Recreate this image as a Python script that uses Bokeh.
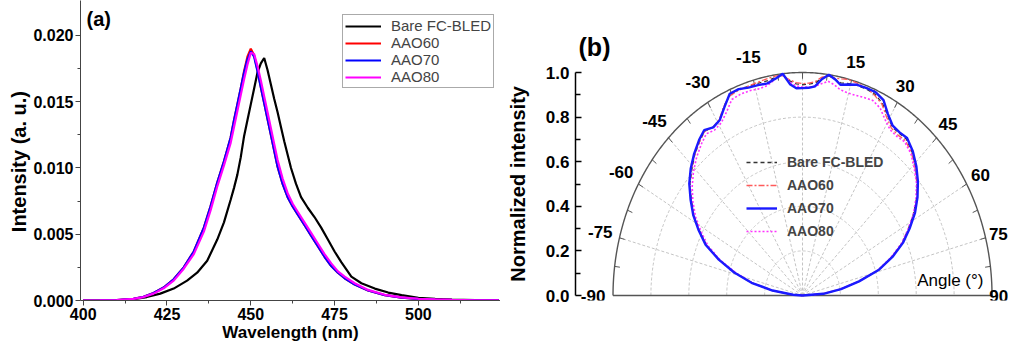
import numpy as np
from bokeh.plotting import figure
from bokeh.layouts import row
from bokeh.models import (Range1d, FixedTicker, NumeralTickFormatter, Legend,
                          LegendItem, Label)
from bokeh.core.properties import value
from bokeh.embed import file_html
from bokeh.resources import INLINE

FONT = "Liberation Sans"
NB = "\u00a0"

# ---------------- Panel (a): emission spectra ----------------
series_names = ["Bare FC-BLED", "AAO60", "AAO70", "AAO80"]

wl_bare = [400, 405, 410, 415, 419, 423, 427, 431, 434, 437, 440, 442, 444, 445,
           446, 447, 448, 449, 450, 451, 452, 453, 454, 455, 456, 457, 458, 459,
           460, 461, 462, 463.5, 465, 467, 469, 471, 473, 475, 477, 480, 483, 487,
           491, 495, 500, 505, 510, 517, 524]
int_bare = [0.0, 0.0, 0.00001, 0.0001, 0.00026, 0.00052, 0.0009, 0.0015, 0.0021,
            0.0030, 0.0046, 0.0059, 0.0076, 0.0085, 0.0095, 0.0108, 0.0124, 0.0136,
            0.0148, 0.0160, 0.0172, 0.0179, 0.0183, 0.0174, 0.0163, 0.0152, 0.0142,
            0.0131, 0.0120, 0.0110, 0.0100, 0.0088, 0.0078, 0.0070, 0.0063, 0.0055,
            0.0046, 0.0037, 0.0029, 0.0018, 0.0013, 0.0009, 0.0006, 0.0004, 0.0002,
            0.00012, 0.00007, 0.00003, 0.00001]

wl_aao = [400, 405, 410, 415, 418, 421, 424, 427, 430, 433, 436, 438, 440, 442,
          444, 445, 446, 447, 448, 449, 450, 451, 452, 453, 454, 455, 456, 457,
          458, 459.5, 461, 462.5, 464, 466, 468, 470, 472, 474, 476, 478, 481, 485,
          490, 495, 500, 505, 510, 517, 524]
int_aao70 = [0.0, 0.00001, 0.00003, 0.00013, 0.00028, 0.00056, 0.00098, 0.0016,
             0.0025, 0.0037, 0.0055, 0.0071, 0.0089, 0.0105, 0.0123, 0.0136, 0.0148,
             0.0160, 0.0172, 0.0182, 0.0188, 0.0184, 0.0173, 0.0161, 0.0149, 0.0137,
             0.0125, 0.0113, 0.0101, 0.0088, 0.0078, 0.0071, 0.0065, 0.0057, 0.0049,
             0.0041, 0.0033, 0.0026, 0.0021, 0.00168, 0.0012, 0.00075, 0.0004,
             0.00022, 0.00012, 0.00007, 0.00004, 0.00002, 0.00001]
int_aao60 = [0.0, 0.00001, 0.00003, 0.00013, 0.00028, 0.00056, 0.00098, 0.0016,
             0.0025, 0.0037, 0.0055, 0.0071, 0.0089, 0.0105, 0.0123, 0.0136, 0.0148,
             0.0160, 0.0173, 0.0184, 0.0190, 0.0185, 0.0174, 0.0161, 0.0149, 0.0137,
             0.0125, 0.0113, 0.0101, 0.0088, 0.0078, 0.0071, 0.0065, 0.0057, 0.0049,
             0.0041, 0.0033, 0.0026, 0.0021, 0.00168, 0.0012, 0.00075, 0.0004,
             0.00022, 0.00012, 0.00007, 0.00004, 0.00002, 0.00001]
int_aao80 = [0.0, 0.00001, 0.00003, 0.00012, 0.00026, 0.00052, 0.00092, 0.0015,
             0.0024, 0.0035, 0.0052, 0.0068, 0.0086, 0.0102, 0.0119, 0.0131, 0.0143,
             0.0155, 0.0167, 0.0178, 0.0187, 0.0186, 0.0177, 0.0166, 0.0154, 0.0142,
             0.0130, 0.0118, 0.0106, 0.0092, 0.0081, 0.0073, 0.0067, 0.0059, 0.0051,
             0.0043, 0.0035, 0.0028, 0.0022, 0.0018, 0.0013, 0.0008, 0.00043,
             0.00023, 0.00013, 0.00008, 0.00004, 0.00002, 0.00001]

x_ticks_a = [400, 425, 450, 475, 500]
x_minor_a = [412.5, 437.5, 462.5, 487.5, 512.5]
y_ticks_a = [0.0, 0.005, 0.010, 0.015, 0.020]
y_minor_a = [0.0025, 0.0075, 0.0125, 0.0175]

# ---------------- Panel (b): polar far-field ----------------
angle_deg = [-90, -86, -82, -78, -74, -70, -66, -62, -58, -54, -50, -46, -42, -38,
             -35, -32, -29, -26, -23, -20, -17, -14, -11, -8, -6, -4, -2, 0, 2, 4,
             6, 8, 10, 12, 14, 17, 20, 23, 26, 29, 32, 35, 38, 42, 46, 50, 54, 58,
             62, 66, 70, 74, 78, 82, 86, 90]
r_bare = [0.0, 0.05, 0.16, 0.275, 0.375, 0.47, 0.555, 0.615, 0.675, 0.725, 0.775,
          0.812, 0.85, 0.88, 0.9, 0.89, 0.9, 0.945, 0.98, 0.985, 0.98, 0.98, 0.98,
          0.99, 0.995, 0.965, 0.95, 0.945, 0.948, 0.955, 0.98, 0.995, 0.985, 0.975,
          0.98, 0.985, 0.985, 0.98, 0.96, 0.925, 0.893, 0.888, 0.89, 0.865, 0.83,
          0.79, 0.745, 0.69, 0.632, 0.575, 0.5, 0.42, 0.305, 0.205, 0.11, 0.0]
r_aao60 = [0.0, 0.05, 0.16, 0.27, 0.37, 0.465, 0.555, 0.615, 0.675, 0.725, 0.775,
           0.815, 0.85, 0.88, 0.9, 0.89, 0.905, 0.945, 0.975, 0.98, 0.982, 0.985,
           0.99, 0.995, 0.99, 0.97, 0.955, 0.95, 0.953, 0.962, 0.985, 0.995, 0.99,
           0.993, 0.998, 0.995, 0.99, 0.975, 0.955, 0.915, 0.885, 0.878, 0.882,
           0.86, 0.825, 0.787, 0.745, 0.695, 0.635, 0.575, 0.5, 0.415, 0.3, 0.2,
           0.105, 0.0]
r_aao70 = [0.0, 0.05, 0.16, 0.275, 0.375, 0.47, 0.56, 0.62, 0.68, 0.73, 0.78, 0.82,
           0.855, 0.886, 0.905, 0.889, 0.9, 0.94, 0.983, 0.985, 0.975, 0.972, 0.969,
           0.985, 1.0, 0.95, 0.93, 0.93, 0.932, 0.94, 0.975, 1.0, 0.985, 0.966,
           0.975, 0.988, 0.99, 0.99, 0.975, 0.93, 0.898, 0.893, 0.896, 0.87, 0.835,
           0.795, 0.75, 0.70, 0.64, 0.58, 0.505, 0.42, 0.305, 0.205, 0.11, 0.0]
r_aao80 = [0.0, 0.05, 0.16, 0.27, 0.365, 0.46, 0.545, 0.605, 0.665, 0.715, 0.76,
           0.80, 0.835, 0.865, 0.885, 0.875, 0.885, 0.915, 0.955, 0.96, 0.96, 0.955,
           0.96, 0.985, 0.995, 0.96, 0.94, 0.935, 0.935, 0.94, 0.955, 0.97, 0.96,
           0.945, 0.94, 0.94, 0.945, 0.95, 0.935, 0.9, 0.875, 0.87, 0.875, 0.855,
           0.82, 0.785, 0.74, 0.69, 0.63, 0.57, 0.495, 0.415, 0.3, 0.2, 0.105, 0.0]

angle_ticks = list(range(-90, 91, 15))
angle_minor = [a + 7.5 for a in angle_ticks[:-1]]
r_grid = [0.2, 0.4, 0.6, 0.8]
r_ticks = [0.0, 0.2, 0.4, 0.6, 0.8, 1.0]
r_minor = [0.1, 0.3, 0.5, 0.7, 0.9]

# ================= Figure (a) =================
XA0, XA1 = 399.2, 524.5
YA1 = 0.02264
p1 = figure(width=500, height=345, x_range=Range1d(XA0, XA1),
            y_range=Range1d(0, YA1), output_backend="svg",
            toolbar_location=None, min_border_left=80, min_border_right=0,
            min_border_top=0, min_border_bottom=45)
p1.outline_line_color = None
p1.grid.visible = False
p1.background_fill_color = "white"

colors_a = ["black", "#ff0000", "#0000ff", "#ff00ff"]
r0 = p1.line(wl_bare, int_bare, line_color=colors_a[0], line_width=2.2)
r1 = p1.line(wl_aao, int_aao60, line_color=colors_a[1], line_width=2.2)
r2 = p1.line(wl_aao, int_aao70, line_color=colors_a[2], line_width=2.2)
r3 = p1.line(wl_aao, int_aao80, line_color=colors_a[3], line_width=2.2)

for ax in (p1.xaxis[0], p1.yaxis[0]):
    ax.axis_line_color = "#444444"
    ax.axis_line_width = 1
    ax.major_tick_line_color = "#444444"
    ax.minor_tick_line_color = "#444444"
    ax.major_tick_out = 5
    ax.major_tick_in = 0
    ax.minor_tick_out = 3
    ax.minor_tick_in = 0
    ax.major_label_text_font = FONT
    ax.major_label_text_font_style = "bold"
    ax.major_label_text_font_size = "16px"
    ax.major_label_text_color = "black"
    ax.axis_label_text_font = FONT
    ax.axis_label_text_font_style = "bold"
    ax.axis_label_text_color = "black"

p1.xaxis.ticker = FixedTicker(ticks=x_ticks_a, minor_ticks=x_minor_a)
p1.yaxis.ticker = FixedTicker(ticks=y_ticks_a, minor_ticks=y_minor_a)
p1.yaxis.formatter = NumeralTickFormatter(format="0.000")
p1.xaxis.major_label_standoff = 2
p1.yaxis.major_label_standoff = 2
p1.xaxis.axis_label = "Wavelength (nm)"
p1.xaxis.axis_label_text_font_size = "17px"
p1.xaxis.axis_label_standoff = 0
p1.yaxis.axis_label = "Intensity (a. u.)" + NB * 4
p1.yaxis.axis_label_text_font_size = "20px"
p1.yaxis.axis_label_standoff = 0

leg1 = Legend(items=[LegendItem(label=series_names[0], renderers=[r0]),
                     LegendItem(label=series_names[1], renderers=[r1]),
                     LegendItem(label=series_names[2], renderers=[r2]),
                     LegendItem(label=series_names[3], renderers=[r3])],
              location=(262, 212), margin=0, padding=2, spacing=0,
              glyph_width=36, glyph_height=16, label_height=16,
              label_standoff=10, label_text_font=FONT,
              label_text_font_size="15px", border_line_color="#555555",
              border_line_width=1, background_fill_color="white")
p1.add_layout(leg1)
p1.add_layout(Label(x=401.0, y=0.02204, text="(a)", text_font=FONT,
                    text_font_style="bold", text_font_size="20px",
                    text_baseline="top", text_align="left", text_color="black"))

# ================= Figure (b) =================
p2 = figure(width=508, height=345, x_range=Range1d(-1.198, 1.087),
            y_range=Range1d(-0.0224, 1.3229), output_backend="svg",
            toolbar_location=None, x_axis_location=None,
            min_border_left=75, min_border_right=0, min_border_top=0,
            min_border_bottom=0)
p2.outline_line_color = None
p2.grid.visible = False

phi = np.radians(np.linspace(-90, 90, 361))
p2.multi_line([list(rr * np.sin(phi)) for rr in r_grid],
              [list(rr * np.cos(phi)) for rr in r_grid],
              line_color="#c4c4c4", line_width=1, line_dash="3 2")
rad = np.radians(angle_ticks[1:-1])
p2.multi_line([[0, float(np.sin(a))] for a in rad],
              [[0, float(np.cos(a))] for a in rad],
              line_color="#c4c4c4", line_width=1, line_dash="3 2")
tk = np.radians(angle_ticks[1:-1] + angle_minor)
p2.multi_line([[float(np.sin(a)), float(0.972 * np.sin(a))] for a in tk],
              [[float(np.cos(a)), float(0.972 * np.cos(a))] for a in tk],
              line_color="#555555", line_width=1)
p2.line(list(np.sin(phi)), list(np.cos(phi)), line_color="#555555", line_width=1.4)
p2.line([-1, 1], [0, 0], line_color="#555555", line_width=1.4)

def lab_radius(a):
    if a <= 0:
        return 1.105
    if a == 90:
        return 1.035
    if a == 75:
        return 1.07
    return 1.085
la = np.radians(angle_ticks)
lab_r = np.array([lab_radius(a) for a in angle_ticks])
p2.text(x=list(lab_r * np.sin(la)), y=list(lab_r * np.cos(la)),
        text=[str(a) for a in angle_ticks], text_font=value(FONT),
        text_font_style="bold", text_font_size="17px", text_align="center",
        text_baseline="middle", text_color="black")

th = np.radians(angle_deg)
def xy(r):
    r = np.array(r)
    return list(r * np.sin(th)), list(r * np.cos(th))

xb, yb = xy(r_bare)
x6, y6 = xy(r_aao60)
x7, y7 = xy(r_aao70)
x8, y8 = xy(r_aao80)
q0 = p2.line(xb, yb, line_color="#333333", line_width=1.3, line_dash="4 3")
q1 = p2.line(x6, y6, line_color="#ff5a5a", line_width=1.3, line_dash="6 2 2 2")
q3 = p2.line(x8, y8, line_color="#ff33ff", line_width=1.6, line_dash="2 2")
q2 = p2.line(x7, y7, line_color="#1a1aff", line_width=2.4)

ya = p2.yaxis[0]
ya.bounds = (0, 1)
ya.ticker = FixedTicker(ticks=r_ticks, minor_ticks=r_minor)
ya.formatter = NumeralTickFormatter(format="0.0")
ya.axis_line_color = "black"
ya.axis_line_width = 1.5
ya.major_tick_line_color = "black"
ya.minor_tick_line_color = "black"
ya.major_tick_line_width = 1.5
ya.minor_tick_line_width = 1.5
ya.major_tick_in = 6
ya.major_tick_out = 0
ya.minor_tick_in = 5
ya.minor_tick_out = 0
ya.major_label_text_font = FONT
ya.major_label_text_font_style = "bold"
ya.major_label_text_font_size = "17px"
ya.major_label_text_color = "black"
ya.major_label_standoff = 6
ya.axis_label = "Normalized intensity" + NB * 12
ya.axis_label_text_font = FONT
ya.axis_label_text_font_style = "bold"
ya.axis_label_text_font_size = "20px"
ya.axis_label_text_color = "black"
ya.axis_label_standoff = 14

leg2 = Legend(items=[LegendItem(label=series_names[0], renderers=[q0]),
                     LegendItem(label=series_names[1], renderers=[q1]),
                     LegendItem(label=series_names[2], renderers=[q2]),
                     LegendItem(label=series_names[3], renderers=[q3])],
              location=(166, 54), margin=0, padding=5, spacing=3,
              glyph_width=31, glyph_height=20, label_height=20,
              label_standoff=10, label_text_font=FONT,
              label_text_font_style="bold", label_text_font_size="14px",
              border_line_alpha=0, background_fill_alpha=0)
p2.add_layout(leg2)

p2.add_layout(Label(x=0.955, y=0.067, text="Angle (°)", text_font=FONT,
                    text_font_size="17px", text_align="right",
                    text_baseline="middle", text_color="black"))
p2.add_layout(Label(x=-1.182, y=1.175, text="(b)", text_font=FONT,
                    text_font_style="bold", text_font_size="25px",
                    text_align="left", text_baseline="top", text_color="black"))

layout = row(p1, p2)
open("out.html", "w").write(file_html(layout, INLINE))
